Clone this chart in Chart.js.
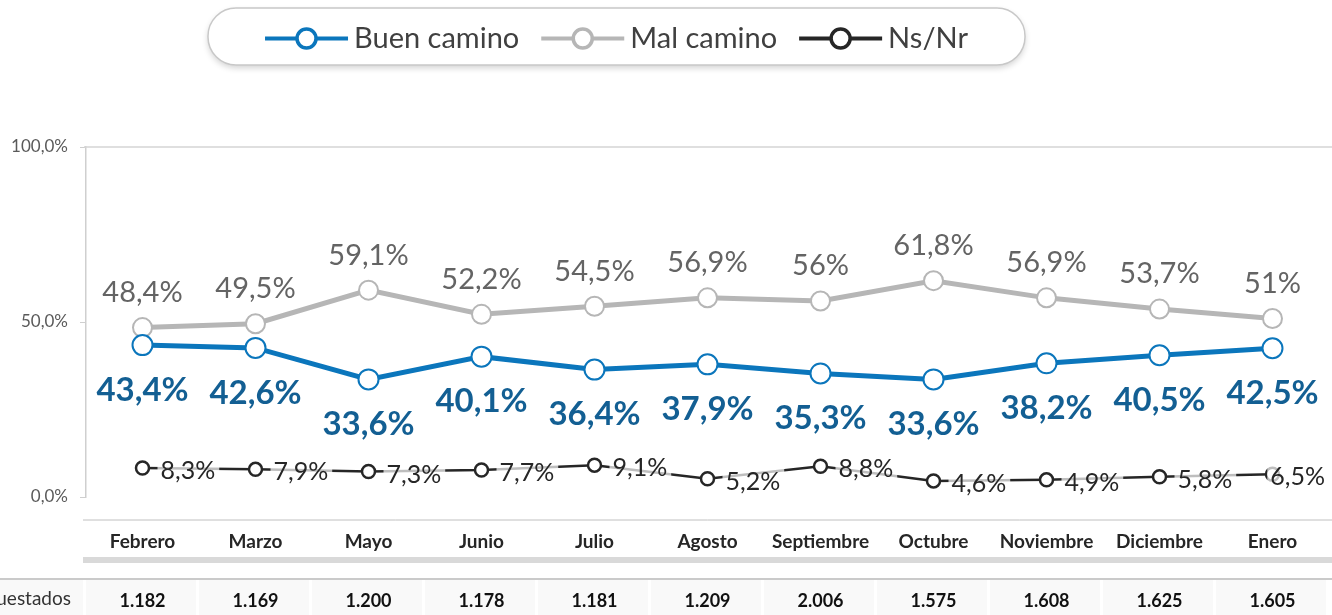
<!DOCTYPE html>
<html>
<head>
<meta charset="utf-8">
<script src="https://cdn.jsdelivr.net/npm/chart.js@4/dist/chart.umd.min.js"></script>
<style>
  html, body { margin: 0; padding: 0; background: #fff; }
  #wrap { width: 1332px; height: 615px; }
</style>
</head>
<body>
<div id="wrap"><canvas id="chart" width="1332" height="615"></canvas></div>
<script>
'use strict';

// months shown on the x axis
var months = ['Febrero', 'Marzo', 'Mayo', 'Junio', 'Julio', 'Agosto', 'Septiembre', 'Octubre', 'Noviembre', 'Diciembre', 'Enero'];

// series values (percent)
var buenCamino = [43.4, 42.6, 33.6, 40.1, 36.4, 37.9, 35.3, 33.6, 38.2, 40.5, 42.5];
var malCamino = [48.4, 49.5, 59.1, 52.2, 54.5, 56.9, 56, 61.8, 56.9, 53.7, 51];
var nsNr = [8.3, 7.9, 7.3, 7.7, 9.1, 5.2, 8.8, 4.6, 4.9, 5.8, 6.5];

// number of people asked each month
var encuestados = ['1.182', '1.169', '1.200', '1.178', '1.181', '1.209', '2.006', '1.575', '1.608', '1.625', '1.605'];
var rowLabel = 'Encuestados';

// y axis ticks
var yTicks = [0, 50, 100];

var FONT = 'Lato, "Open Sans", sans-serif';

function fmt(v){
  // spanish style: comma decimal, whole numbers without decimals
  var s = (Math.round(v * 10) / 10).toString().replace('.', ',');
  return s + '%';
}

// legend drawn as a rounded pill on top
var legendPlugin = {
  id: 'pillLegend',
  afterDraw: function(chart){
    var ctx = chart.ctx;
    var x0 = 208, y0 = 8, w = 817, h = 57, r = 28;
    ctx.save();
    ctx.shadowColor = 'rgba(0,0,0,0.18)';
    ctx.shadowBlur = 6;
    ctx.shadowOffsetY = 3;
    ctx.beginPath();
    ctx.roundRect(x0, y0, w, h, r);
    ctx.fillStyle = '#fff';
    ctx.fill();
    ctx.shadowColor = 'transparent';
    ctx.lineWidth = 1.5;
    ctx.strokeStyle = '#c8c8c8';
    ctx.stroke();

    ctx.font = '29px ' + FONT;
    var lineLen = 83, gapText = 6, gapItem = 22;
    var items = chart.data.datasets;
    var total = 0;
    for (var i = 0; i < items.length; i++){
      total += lineLen + gapText + ctx.measureText(items[i].label).width;
      if (i < items.length - 1) total += gapItem;
    }
    var x = x0 + w / 2 - total / 2;
    var cy = y0 + h / 2 + 2;
    for (var j = 0; j < items.length; j++){
      var ds = items[j];
      ctx.strokeStyle = ds.borderColor;
      ctx.lineWidth = 4;
      ctx.beginPath();
      ctx.moveTo(x, cy);
      ctx.lineTo(x + lineLen, cy);
      ctx.stroke();
      ctx.beginPath();
      ctx.arc(x + lineLen / 2, cy, 9.5, 0, Math.PI * 2);
      ctx.fillStyle = '#fff';
      ctx.fill();
      ctx.lineWidth = 3.5;
      ctx.stroke();
      ctx.fillStyle = '#404040';
      ctx.textAlign = 'left';
      ctx.textBaseline = 'middle';
      ctx.fillText(ds.label, x + lineLen + gapText, cy);
      x += lineLen + gapText + ctx.measureText(ds.label).width + gapItem;
    }
    ctx.restore();
  }
};

// value labels next to the points
var labelPlugin = {
  id: 'valueLabels',
  afterDatasetsDraw: function(chart){
    var ctx = chart.ctx;
    ctx.save();
    chart.data.datasets.forEach(function(ds, i){
      var meta = chart.getDatasetMeta(i);
      meta.data.forEach(function(pt, k){
        var txt = fmt(ds.data[k]);
        if (ds.labelPos === 'below'){
          ctx.font = 'bold 33px ' + FONT;
          ctx.fillStyle = '#135f93';
          ctx.textAlign = 'center';
          ctx.textBaseline = 'middle';
          ctx.fillText(txt, pt.x, pt.y + 45);
        } else if (ds.labelPos === 'above'){
          ctx.font = '29px ' + FONT;
          ctx.fillStyle = '#646464';
          ctx.textAlign = 'center';
          ctx.textBaseline = 'middle';
          ctx.fillText(txt, pt.x, pt.y - 35);
        } else {
          ctx.font = '25px ' + FONT;
          var tw = ctx.measureText(txt).width;
          var lx = pt.x + 18;
          if (lx + tw + 7 > chart.width) lx = chart.width - tw - 7;
          ctx.fillStyle = 'rgba(255,255,255,0.7)';
          ctx.fillRect(lx - 3, pt.y - 12, tw + 7, 26);
          ctx.fillStyle = '#262626';
          ctx.textAlign = 'left';
          ctx.textBaseline = 'middle';
          ctx.fillText(txt, lx, pt.y + 3);
        }
      });
    });
    ctx.restore();
  }
};

// lines, grey band and the count row under the x axis
var tablePlugin = {
  id: 'countTable',
  afterDraw: function(chart){
    var ctx = chart.ctx;
    var xs = chart.scales.x;
    var area = chart.chartArea;
    var step = xs.getPixelForValue(1) - xs.getPixelForValue(0);
    ctx.save();
    // top border at 100%
    ctx.strokeStyle = '#d4d4d4';
    ctx.lineWidth = 1.5;
    ctx.beginPath();
    ctx.moveTo(area.left - 2, area.top);
    ctx.lineTo(chart.width, area.top);
    ctx.stroke();

    ctx.beginPath();
    ctx.moveTo(83, 520);
    ctx.lineTo(chart.width, 520);
    ctx.strokeStyle = '#c0c0c0';
    ctx.lineWidth = 1;
    ctx.stroke();

    ctx.fillStyle = '#d9d9d9';
    ctx.fillRect(83, 557, chart.width - 83, 6);

    ctx.beginPath();
    ctx.moveTo(0, 579);
    ctx.lineTo(chart.width, 579);
    ctx.strokeStyle = '#b8b8b8';
    ctx.lineWidth = 1.5;
    ctx.stroke();

    // cells
    ctx.fillStyle = '#f9f9f9';
    ctx.fillRect(0, 580, area.left - 3, 35);
    for (var i = 0; i < encuestados.length; i++){
      var cx = xs.getPixelForValue(i);
      ctx.fillStyle = '#f9f9f9';
      ctx.fillRect(cx - step / 2, 580, step - 3, 35);
      ctx.fillStyle = '#111';
      ctx.font = 'bold 18px ' + FONT;
      ctx.textAlign = 'center';
      ctx.textBaseline = 'middle';
      ctx.fillText(encuestados[i], cx, 601);
    }
    ctx.fillStyle = '#333';
    ctx.font = '19px ' + FONT;
    ctx.textAlign = 'right';
    ctx.textBaseline = 'middle';
    ctx.fillText(rowLabel, 71, 599);
    ctx.restore();
  }
};

var ctx = document.getElementById('chart').getContext('2d');
new Chart(ctx, {
  type: 'line',
  data: {
    labels: months,
    datasets: [{
      label: 'Buen camino',
      data: buenCamino,
      borderColor: '#0b76bc',
      borderWidth: 5,
      pointRadius: 10,
      pointBorderWidth: 2,
      pointBackgroundColor: '#fff',
      pointBorderColor: '#0b76bc',
      labelPos: 'below'
    }, {
      label: 'Mal camino',
      data: malCamino,
      borderColor: '#b6b6b6',
      borderWidth: 5,
      pointRadius: 9.5,
      pointBorderWidth: 2,
      pointBackgroundColor: '#fff',
      pointBorderColor: '#b6b6b6',
      labelPos: 'above'
    }, {
      label: 'Ns/Nr',
      data: nsNr,
      borderColor: '#262626',
      borderWidth: 2.5,
      pointRadius: 6.5,
      pointBorderWidth: 2.5,
      pointBackgroundColor: '#fff',
      pointBorderColor: '#262626',
      labelPos: 'right'
    }]
  },
  options: {
    responsive: false,
    animation: false,
    layout: { autoPadding: false, padding: { top: 147, right: 3, left: 0, bottom: 0 } },
    plugins: {
      legend: { display: false },
      tooltip: { enabled: false }
    },
    scales: {
      x: {
        offset: true,
        grid: { display: false },
        border: { display: false },
        ticks: {
          padding: 25,
          color: '#262626',
          font: { family: FONT, size: 19, weight: 'bold' },
          maxRotation: 0,
          autoSkip: false
        },
        afterFit: function(scale){
          scale.height = 118;
          scale.paddingLeft = 0;
          scale.paddingRight = 0;
        }
      },
      y: {
        min: 0,
        max: 100,
        afterBuildTicks: function(scale){
          scale.ticks = yTicks.map(function(v){ return { value: v }; });
        },
        grid: { drawOnChartArea: false, tickLength: 6, color: '#cfcfcf' },
        border: { color: '#cfcfcf', width: 1.5 },
        ticks: {
          padding: 12,
          color: '#5a5a5a',
          font: { family: FONT, size: 17 },
          callback: function(v){ return v.toFixed(1).replace('.', ',') + '%'; }
        },
        afterFit: function(scale){ scale.width = 86; }
      }
    }
  },
  plugins: [legendPlugin, labelPlugin, tablePlugin]
});
</script>
</body>
</html>
